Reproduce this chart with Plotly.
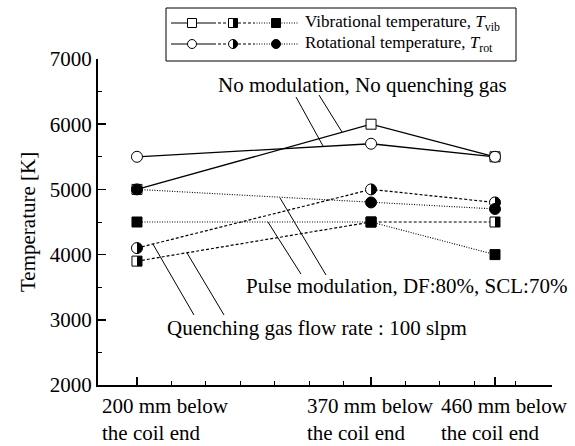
import plotly.graph_objects as go

# ---------------- data ----------------
positions_mm = [200, 370, 460]
tick_labels = ["200 mm below<br>the coil end",
               "370 mm below<br>the coil end",
               "460 mm below<br>the coil end"]

vib_no_mod = [5000, 6000, 5500]     # No modulation, no quenching gas
rot_no_mod = [5500, 5700, 5500]
vib_quench = [3900, 4500, 4500]     # Quenching gas flow rate 100 slpm
rot_quench = [4100, 5000, 4800]
vib_pulse = [4500, 4500, 4000]      # Pulse modulation DF 80%, SCL 70%
rot_pulse = [5000, 4800, 4700]

legend_texts = ["Vibrational temperature, <i>T</i><sub>vib</sub>",
                "Rotational temperature, <i>T</i><sub>rot</sub>"]
note_no_mod = "No modulation, No quenching gas"
note_pulse = "Pulse modulation, DF:80%, SCL:70%"
note_quench = "Quenching gas flow rate : 100 slpm"
y_title = "Temperature [K]"

# ---------------- layout geometry ----------------
W, H = 575, 446
L, R, T, B = 98, 23, 59, 61
PW, PH = W - L - R, H - T - B
FONT = "Liberation Serif"

def px(xp):
    return (xp - L) / PW

def py(yp):
    return (H - B - yp) / PH

SOLID = "solid"
DASH = "3px,2px"
DOT = "1px,1.5px"
SQ, CI = 10, 11

fig = go.Figure()

def add_series(y, symbol, fill, dash, lw, size):
    fig.add_trace(go.Scatter(
        x=positions_mm, y=y, mode="lines+markers",
        line=dict(color="black", width=lw, dash=dash),
        marker=dict(symbol=symbol, size=size, color=fill,
                    line=dict(color="black", width=1)),
        showlegend=False, hoverinfo="skip"))

add_series(vib_no_mod, "square", "white", SOLID, 1.3, SQ)
add_series(vib_quench, "square", "white", DASH, 1.2, SQ)
add_series(vib_pulse, "square", "black", DOT, 1.1, SQ)
add_series(rot_no_mod, "circle", "white", SOLID, 1.3, CI)
add_series(rot_quench, "circle", "white", DASH, 1.2, CI)
add_series(rot_pulse, "circle", "black", DOT, 1.1, CI)

shapes = []

def half_path(kind, r):
    if kind == "square":
        return f"M0,{-r} L{r},{-r} L{r},{r} L0,{r} Z"
    k = 0.5523 * r
    return (f"M0,{-r} C{k:.2f},{-r} {r},{-k:.2f} {r},0 "
            f"C{r},{k:.2f} {k:.2f},{r} 0,{r} Z")

# half-filled markers for quenching series
for ys, kind, size in [(vib_quench, "square", SQ), (rot_quench, "circle", CI)]:
    for xv, yv in zip(positions_mm, ys):
        shapes.append(dict(type="path", xref="x", yref="y",
                           xsizemode="pixel", ysizemode="pixel",
                           xanchor=xv, yanchor=yv,
                           path=half_path(kind, size / 2),
                           fillcolor="black", line=dict(width=0)))

# pointer lines (data coordinates)
pointers = [
    ((315.5, 6417), (335.1, 5666)),
    ((332.2, 6448), (348.9, 5880)),
    ((303.9, 4868), (337.3, 3687)),
    ((295.1, 4500), (319.1, 3702)),
    ((211.6, 4161), (241.4, 3074)),
    ((236.3, 4028), (263.2, 3074)),
]
for (x0, y0), (x1, y1) in pointers:
    shapes.append(dict(type="line", xref="x", yref="y", x0=x0, y0=y0,
                       x1=x1, y1=y1, line=dict(color="black", width=1)))

# ---------------- custom legend ----------------
shapes.append(dict(type="rect", xref="paper", yref="paper",
                   x0=px(166), x1=px(516), y0=py(61), y1=py(8),
                   line=dict(color="black", width=1), fillcolor="white",
                   layer="below"))
seg_bounds = [171, 213, 254, 298]
mark_x = [192, 233, 276]
row_y = [23, 44]
seg_dash = [SOLID, DASH, DOT]
for ry, kind in zip(row_y, ["square", "circle"]):
    for i in range(3):
        shapes.append(dict(type="line", xref="paper", yref="paper",
                           x0=px(seg_bounds[i]), x1=px(seg_bounds[i + 1]),
                           y0=py(ry), y1=py(ry),
                           line=dict(color="black", width=1.1, dash=seg_dash[i])))
    r = 4.5
    for i in range(3):
        fill = "black" if i == 2 else "white"
        shapes.append(dict(type="rect" if kind == "square" else "circle",
                           xref="paper", yref="paper",
                           xsizemode="pixel", ysizemode="pixel",
                           xanchor=px(mark_x[i]), yanchor=py(ry),
                           x0=-r, x1=r, y0=-r, y1=r,
                           fillcolor=fill, line=dict(color="black", width=1)))
        if i == 1:
            shapes.append(dict(type="path", xref="paper", yref="paper",
                               xsizemode="pixel", ysizemode="pixel",
                               xanchor=px(mark_x[i]), yanchor=py(ry),
                               path=half_path(kind, r),
                               fillcolor="black", line=dict(width=0)))

annotations = []
for ry, txt in zip(row_y, legend_texts):
    annotations.append(dict(xref="paper", yref="paper", x=px(303), y=py(ry),
                            xanchor="left", yanchor="middle", text=txt,
                            showarrow=False, font=dict(size=17, family=FONT, color="black")))

# notes
for txt, cx, cy in [(note_no_mod, 362.5, 85), (note_pulse, 406, 286), (note_quench, 316.5, 328)]:
    annotations.append(dict(xref="paper", yref="paper", x=px(cx), y=py(cy),
                            xanchor="center", yanchor="middle", text=txt,
                            showarrow=False, font=dict(size=21, family=FONT, color="black")))

# x tick labels (left aligned two-line blocks)
x_shift = [-37, -66, -56]
for xv, txt, sh in zip(positions_mm, tick_labels, x_shift):
    annotations.append(dict(xref="x", yref="paper", x=xv, y=py(392), xshift=sh,
                            xanchor="left", yanchor="top", align="left", text=txt,
                            showarrow=False, font=dict(size=21, family=FONT, color="black")))

# y title
annotations.append(dict(xref="paper", yref="paper", x=px(28), y=0.5,
                        xanchor="center", yanchor="middle", textangle=-90,
                        text=y_title, showarrow=False,
                        font=dict(size=21, family=FONT, color="black")))

fig.update_layout(
    width=W, height=H,
    margin=dict(l=L, r=R, t=T, b=B, pad=0),
    paper_bgcolor="white", plot_bgcolor="white",
    showlegend=False,
    shapes=shapes, annotations=annotations,
    font=dict(family=FONT, size=21, color="black"),
    xaxis=dict(range=[171.7, 501.4], showgrid=False, zeroline=False,
               showline=True, linecolor="black", linewidth=2,
               ticks="inside", tickvals=positions_mm, ticklen=8, tickwidth=1.5,
               tickcolor="black", showticklabels=False,
               minor=dict(tickvals=[225, 250, 275, 300, 325, 350, 395, 420, 445, 475],
                          ticks="inside", ticklen=4, tickwidth=1, tickcolor="black")),
    yaxis=dict(range=[2000, 7000], showgrid=False, zeroline=False,
               showline=True, linecolor="black", linewidth=2,
               ticks="inside", dtick=1000, ticklen=8, tickwidth=1.5,
               tickcolor="black",
               tickfont=dict(size=21, family=FONT, color="black"),
               minor=dict(dtick=500, ticks="inside", ticklen=4, tickwidth=1,
                          tickcolor="black")),
)

fig.write_html("out.html",
               config={"displayModeBar": False, "staticPlot": True},
               post_script="document.body.style.margin='0';document.body.style.padding='0';")
